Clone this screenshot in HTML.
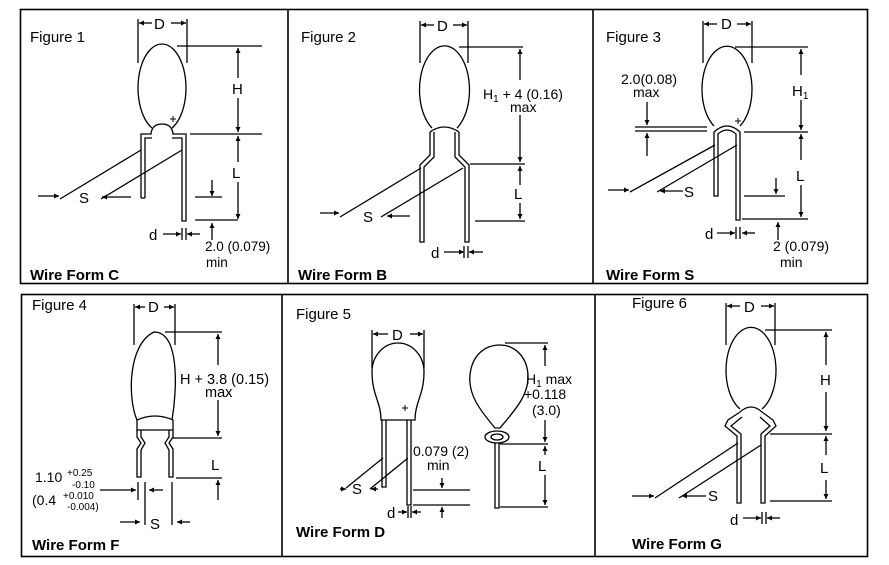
<!DOCTYPE html>
<html><head><meta charset="utf-8"><style>
html,body{margin:0;padding:0;background:#fff;}
svg{display:block;}
text{font-family:"Liberation Sans",Arial,sans-serif;font-size:13.5px;fill:#000;}
.t{font-size:15px;}
.b{font-weight:bold;font-size:15px;}
.s{font-size:10px;}
</style></head><body>
<svg width="889" height="565" viewBox="0 0 889 565" xmlns="http://www.w3.org/2000/svg">
<defs>
<marker id="a" viewBox="0 0 10 10" refX="10" refY="5" markerWidth="6" markerHeight="5" orient="auto-start-reverse" markerUnits="userSpaceOnUse"><path d="M0,0 L10,5 L0,10 z" fill="#000"/></marker>
</defs>
<g fill="none" stroke="#000" stroke-width="1.3">
<rect x="20.5" y="9.5" width="847" height="274" stroke-width="1.6"/>
<line x1="288" y1="9" x2="288" y2="284" stroke-width="1.6"/>
<line x1="593" y1="9" x2="593" y2="284" stroke-width="1.6"/>
<rect x="21.5" y="294.5" width="846" height="262" stroke-width="1.6"/>
<line x1="282" y1="294" x2="282" y2="557" stroke-width="1.6"/>
<line x1="595" y1="294" x2="595" y2="557" stroke-width="1.6"/>

<!-- FIG 1 -->
<line x1="138" y1="19" x2="138" y2="63"/><line x1="187" y1="19" x2="187" y2="63"/>
<line x1="152" y1="23" x2="139" y2="23" marker-end="url(#a)"/><line x1="171" y1="23" x2="186" y2="23" marker-end="url(#a)"/>
<path d="M152,128 A24,44 0 1 1 172,128"/>
<path d="M141,198 L141,134 L151,134 Q152,124 162,124 Q172,124 173,134 L186,134 L186,221 L182,221 L182,138 L172,138 M145,198 L145,138 L152,138" />
<path d="M141,198 L145,198"/>
<line x1="177" y1="46" x2="262" y2="46"/><line x1="190" y1="134" x2="262" y2="134"/>
<line x1="238" y1="78" x2="238" y2="48" marker-end="url(#a)"/><line x1="238" y1="98" x2="238" y2="132" marker-end="url(#a)"/>
<line x1="238" y1="162" x2="238" y2="136" marker-end="url(#a)"/><line x1="238" y1="182" x2="238" y2="219" marker-end="url(#a)"/>
<line x1="195" y1="220" x2="238" y2="220"/>
<line x1="195" y1="197" x2="222" y2="197"/><line x1="212" y1="180" x2="212" y2="196" marker-end="url(#a)"/>
<line x1="212" y1="240" x2="212" y2="223" marker-end="url(#a)"/>
<line x1="60" y1="199" x2="141" y2="150"/><line x1="101" y1="199" x2="182" y2="150"/>
<line x1="38" y1="196" x2="59" y2="196" marker-end="url(#a)"/><line x1="131" y1="197" x2="102" y2="197" marker-end="url(#a)"/>
<line x1="163" y1="234" x2="181" y2="234" marker-end="url(#a)"/><line x1="200" y1="234" x2="187" y2="234" marker-end="url(#a)"/>
<line x1="182" y1="228" x2="182" y2="240"/><line x1="186" y1="228" x2="186" y2="240"/>
<line x1="173" y1="116" x2="173" y2="122" stroke-width="1"/><line x1="170" y1="119" x2="176" y2="119" stroke-width="1"/>

<!-- FIG 2 -->
<line x1="420" y1="21" x2="420" y2="63"/><line x1="468" y1="21" x2="468" y2="63"/>
<line x1="434" y1="25" x2="421" y2="25" marker-end="url(#a)"/><line x1="453" y1="25" x2="467" y2="25" marker-end="url(#a)"/>
<path d="M432,128 A25,44 0 1 1 457,128"/>
<path d="M430,132 Q444,122 459,132"/>
<path d="M430,132 L430,155 L420,165 L420,242 L424,242 L424,167 L434,157 L434,132"/>
<path d="M459,132 L459,155 L469,165 L469,242 L465,242 L465,167 L455,157 L455,132"/>
<line x1="459" y1="47" x2="523" y2="47"/>
<line x1="520" y1="80" x2="520" y2="49" marker-end="url(#a)"/><line x1="520" y1="115" x2="520" y2="162" marker-end="url(#a)"/>
<line x1="470" y1="164" x2="525" y2="164"/>
<line x1="520" y1="185" x2="520" y2="166" marker-end="url(#a)"/><line x1="520" y1="203" x2="520" y2="219" marker-end="url(#a)"/>
<line x1="475" y1="221" x2="525" y2="221"/>
<line x1="340" y1="217" x2="421" y2="168"/><line x1="381" y1="217" x2="463" y2="168"/>
<line x1="320" y1="213" x2="339" y2="213" marker-end="url(#a)"/><line x1="410" y1="216" x2="387" y2="216" marker-end="url(#a)"/>
<line x1="444" y1="252" x2="464" y2="252" marker-end="url(#a)"/><line x1="483" y1="252" x2="469" y2="252" marker-end="url(#a)"/>
<line x1="464" y1="246" x2="464" y2="258"/><line x1="468" y1="246" x2="468" y2="258"/>

<!-- FIG 3 -->
<line x1="703" y1="21" x2="703" y2="63"/><line x1="752" y1="21" x2="752" y2="63"/>
<line x1="717" y1="24" x2="704" y2="24" marker-end="url(#a)"/><line x1="737" y1="24" x2="751" y2="24" marker-end="url(#a)"/>
<path d="M714,126 A25,43 0 1 1 740,126"/>
<path d="M714,196 L714,132 Q727,120 740,132 L740,220 L736,220 L736,134 Q727,126 718,134 L718,196 Z"/>
<line x1="738" y1="118" x2="738" y2="124" stroke-width="1"/><line x1="735" y1="121" x2="741" y2="121" stroke-width="1"/>
<line x1="635" y1="127" x2="707" y2="127"/><line x1="635" y1="131" x2="707" y2="131"/>
<line x1="647" y1="102" x2="647" y2="125" marker-end="url(#a)"/><line x1="647" y1="156" x2="647" y2="133" marker-end="url(#a)"/>
<line x1="735" y1="47" x2="808" y2="47"/><line x1="744" y1="132" x2="808" y2="132"/>
<line x1="801" y1="75" x2="801" y2="49" marker-end="url(#a)"/><line x1="801" y1="100" x2="801" y2="130" marker-end="url(#a)"/>
<line x1="801" y1="160" x2="801" y2="134" marker-end="url(#a)"/><line x1="801" y1="185" x2="801" y2="217" marker-end="url(#a)"/>
<line x1="742" y1="219" x2="808" y2="219"/>
<line x1="744" y1="196" x2="785" y2="196"/><line x1="776" y1="178" x2="776" y2="194" marker-end="url(#a)"/>
<line x1="778" y1="240" x2="778" y2="222" marker-end="url(#a)"/>
<line x1="630" y1="192" x2="715" y2="145"/><line x1="657" y1="192" x2="737" y2="145"/>
<line x1="608" y1="190" x2="629" y2="190" marker-end="url(#a)"/><line x1="683" y1="191" x2="660" y2="191" marker-end="url(#a)"/>
<line x1="717" y1="233" x2="735" y2="233" marker-end="url(#a)"/><line x1="755" y1="233" x2="742" y2="233" marker-end="url(#a)"/>
<line x1="736" y1="227" x2="736" y2="239"/><line x1="740" y1="227" x2="740" y2="239"/>

<!-- FIG 4 -->
<line x1="134" y1="304" x2="134" y2="345"/><line x1="175" y1="304" x2="175" y2="345"/>
<line x1="145" y1="307" x2="135" y2="307" marker-end="url(#a)"/><line x1="164" y1="307" x2="174" y2="307" marker-end="url(#a)"/>
<path d="M137,420 C128,400 127,345 154,332 C180,332 177,390 172,420"/>
<path d="M137,420 Q155,412 173,420 L173,430 L137,430 Z"/>
<path d="M137,430 L137,437 L141,443 L137,449 L137,477 L141,477 L141,450 L145,443 L141,437 L141,430"/>
<path d="M173,430 L173,437 L169,443 L173,449 L173,477 L169,477 L169,450 L165,443 L169,437 L169,430"/>
<line x1="165" y1="332" x2="222" y2="332"/>
<line x1="218" y1="365" x2="218" y2="334" marker-end="url(#a)"/><line x1="218" y1="400" x2="218" y2="436" marker-end="url(#a)"/>
<line x1="173" y1="438" x2="222" y2="438"/>
<line x1="176" y1="478" x2="222" y2="478"/>
<line x1="218" y1="500" x2="218" y2="480" marker-end="url(#a)"/>
<line x1="100" y1="490" x2="136" y2="490" marker-end="url(#a)"/><line x1="163" y1="490" x2="149" y2="490" marker-end="url(#a)"/>
<line x1="138" y1="482" x2="138" y2="500"/><line x1="145" y1="482" x2="145" y2="525"/>
<line x1="172" y1="482" x2="172" y2="525"/>
<line x1="120" y1="522" x2="140" y2="522" marker-end="url(#a)"/><line x1="190" y1="522" x2="177" y2="522" marker-end="url(#a)"/>

<!-- FIG 5 -->
<line x1="372" y1="330" x2="372" y2="368"/><line x1="424" y1="330" x2="424" y2="368"/>
<line x1="388" y1="334" x2="373" y2="334" marker-end="url(#a)"/><line x1="410" y1="334" x2="423" y2="334" marker-end="url(#a)"/>
<path d="M372,372 A26,29 0 0 1 424,372 C424,395 415,402 415,420 L381,420 C381,402 372,395 372,372 Z"/>
<line x1="405" y1="405" x2="405" y2="411" stroke-width="1"/><line x1="402" y1="408" x2="408" y2="408" stroke-width="1"/>
<path d="M382,420 L382,487 L386,487 L386,420 M407,420 L407,505 L411,505 L411,420"/>
<line x1="413" y1="490" x2="470" y2="490"/><line x1="413" y1="505" x2="470" y2="505"/>
<line x1="442" y1="478" x2="442" y2="488" marker-end="url(#a)"/><line x1="442" y1="518" x2="442" y2="507" marker-end="url(#a)"/>
<line x1="346" y1="488" x2="383" y2="458"/><line x1="370" y1="489" x2="408" y2="458"/>
<line x1="340" y1="489" x2="346" y2="489" marker-end="url(#a)"/><line x1="378" y1="489" x2="371" y2="489" marker-end="url(#a)"/>
<line x1="398" y1="512" x2="407" y2="512" marker-end="url(#a)"/><line x1="421" y1="512" x2="412" y2="512" marker-end="url(#a)"/>
<line x1="408" y1="506" x2="408" y2="518"/><line x1="411" y1="506" x2="411" y2="518"/>
<path d="M495,428 C480,410 468,395 470,375 C472,355 485,345 500,345 C515,345 527,357 528,375 C529,395 515,410 500,428 Z"/>
<ellipse cx="497" cy="437" rx="12" ry="6"/><ellipse cx="497" cy="437" rx="6" ry="3"/>
<path d="M495,443 L495,508 L499,508 L499,443"/>
<line x1="505" y1="343" x2="548" y2="343"/>
<line x1="545" y1="366" x2="545" y2="345" marker-end="url(#a)"/><line x1="545" y1="420" x2="545" y2="442" marker-end="url(#a)"/>
<line x1="500" y1="444" x2="548" y2="444"/>
<line x1="545" y1="455" x2="545" y2="446" marker-end="url(#a)"/><line x1="545" y1="475" x2="545" y2="505" marker-end="url(#a)"/>
<line x1="500" y1="507" x2="548" y2="507"/>

<!-- FIG 6 -->
<line x1="726" y1="303" x2="726" y2="345"/><line x1="775" y1="303" x2="775" y2="345"/>
<line x1="740" y1="306" x2="727" y2="306" marker-end="url(#a)"/><line x1="761" y1="306" x2="774" y2="306" marker-end="url(#a)"/>
<path d="M740,409 A25,43 0 1 1 762,409"/>
<path d="M740,412 Q751,402 762,412"/>
<path d="M740,412 L728,420 L725,426 L737,436 L737,503 L741,503 L741,434 L731,426 L742,417"/>
<path d="M762,412 L773,420 L776,426 L765,436 L765,503 L761,503 L761,434 L770,426 L760,417"/>
<line x1="765" y1="330" x2="832" y2="330"/>
<line x1="826" y1="365" x2="826" y2="332" marker-end="url(#a)"/><line x1="826" y1="392" x2="826" y2="431" marker-end="url(#a)"/>
<line x1="770" y1="434" x2="832" y2="434"/>
<line x1="826" y1="455" x2="826" y2="436" marker-end="url(#a)"/><line x1="826" y1="480" x2="826" y2="499" marker-end="url(#a)"/>
<line x1="770" y1="501" x2="832" y2="501"/>
<line x1="655" y1="498" x2="738" y2="443"/><line x1="679" y1="498" x2="761" y2="445"/>
<line x1="632" y1="496" x2="654" y2="496" marker-end="url(#a)"/><line x1="706" y1="496" x2="682" y2="496" marker-end="url(#a)"/>
<line x1="743" y1="518" x2="761" y2="518" marker-end="url(#a)"/><line x1="780" y1="518" x2="767" y2="518" marker-end="url(#a)"/>
<line x1="762" y1="512" x2="762" y2="524"/><line x1="766" y1="512" x2="766" y2="524"/>
</g>

<!-- TEXT -->
<text x="30" y="42" class="t">Figure 1</text>
<text x="154" y="29" class="t">D</text>
<text x="232" y="94" class="t">H</text>
<text x="232" y="178" class="t">L</text>
<text x="79" y="203" class="t">S</text>
<text x="149" y="240" class="t">d</text>
<text x="205" y="251">2.0 (0.079)</text>
<text x="206" y="267">min</text>
<text x="30" y="280" class="b">Wire Form C</text>

<text x="301" y="42" class="t">Figure 2</text>
<text x="437" y="31" class="t">D</text>
<text x="483" y="99" style="font-size:14px">H<tspan class="s" dy="3">1</tspan><tspan dy="-3"> + 4 (0.16)</tspan></text>
<text x="510" y="112" style="font-size:14px">max</text>
<text x="514" y="199" class="t">L</text>
<text x="363" y="222" class="t">S</text>
<text x="431" y="258" class="t">d</text>
<text x="298" y="280" class="b">Wire Form B</text>

<text x="606" y="42" class="t">Figure 3</text>
<text x="721" y="29" class="t">D</text>
<text x="621" y="84" style="font-size:14px">2.0(0.08)</text>
<text x="633" y="97" style="font-size:14px">max</text>
<text x="792" y="96" class="t">H<tspan class="s" dy="3">1</tspan></text>
<text x="796" y="181" class="t">L</text>
<text x="684" y="197" class="t">S</text>
<text x="705" y="239" class="t">d</text>
<text x="773" y="251" style="font-size:14px">2 (0.079)</text>
<text x="780" y="267" style="font-size:14px">min</text>
<text x="606" y="280" class="b">Wire Form S</text>

<text x="32" y="310" class="t">Figure 4</text>
<text x="148" y="312" class="t">D</text>
<text x="180" y="384" style="font-size:14.5px">H + 3.8 (0.15)</text>
<text x="205" y="397" style="font-size:14.5px">max</text>
<text x="211" y="470" class="t">L</text>
<text x="35" y="482" style="font-size:14px">1.10</text>
<text x="67" y="476" class="s">+0.25</text>
<text x="72" y="488" class="s">-0.10</text>
<text x="32" y="505" style="font-size:14px">(0.4</text>
<text x="63" y="499" class="s">+0.010</text>
<text x="67" y="510" class="s">-0.004)</text>
<text x="150" y="529" class="t">S</text>
<text x="32" y="550" class="b">Wire Form F</text>

<text x="296" y="319" class="t">Figure 5</text>
<text x="392" y="340" class="t">D</text>
<text x="413" y="456" style="font-size:14px">0.079 (2)</text>
<text x="427" y="470" style="font-size:14px">min</text>
<text x="352" y="494" class="t">S</text>
<text x="387" y="518" class="t">d</text>
<text x="526" y="384" style="font-size:14px">H<tspan class="s" dy="3">1</tspan><tspan dy="-3"> max</tspan></text>
<text x="524" y="399" style="font-size:14px">+0.118</text>
<text x="532" y="415" style="font-size:14px">(3.0)</text>
<text x="538" y="471" class="t">L</text>
<text x="296" y="537" class="b">Wire Form D</text>

<text x="632" y="308" class="t">Figure 6</text>
<text x="744" y="312" class="t">D</text>
<text x="820" y="385" class="t">H</text>
<text x="820" y="473" class="t">L</text>
<text x="708" y="501" class="t">S</text>
<text x="730" y="525" class="t">d</text>
<text x="632" y="549" class="b">Wire Form G</text>
</svg>
</body></html>
